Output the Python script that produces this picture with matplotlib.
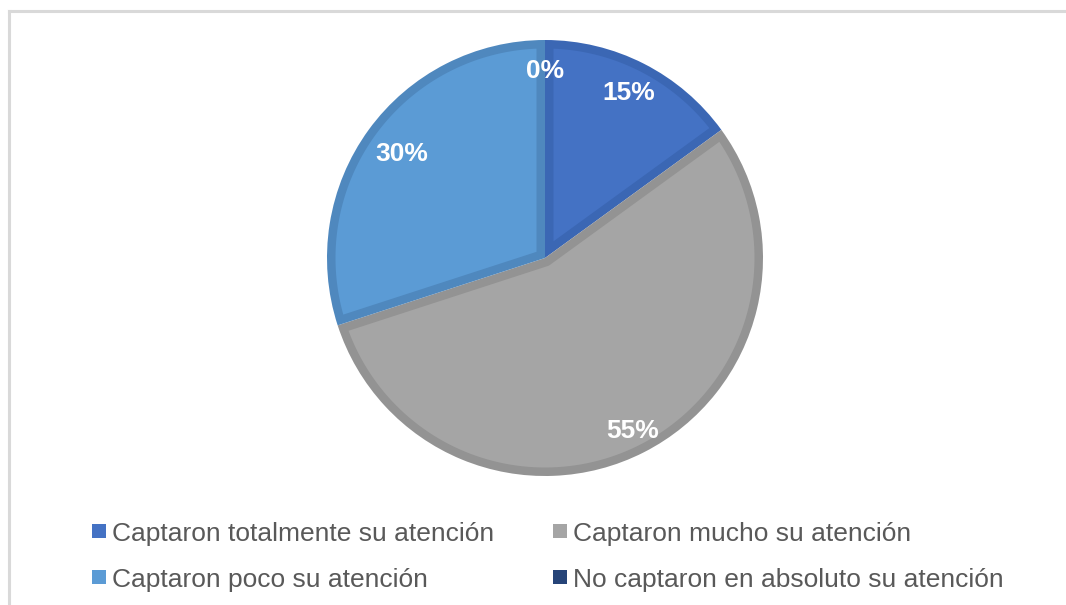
import matplotlib
matplotlib.use("Agg")
import numpy as np
import matplotlib.pyplot as plt
from matplotlib.patches import Rectangle, Polygon
from matplotlib.lines import Line2D

plt.rcParams['font.family'] = ['Liberation Sans', 'DejaVu Sans']

categories = [
    "Captaron totalmente su atención",
    "Captaron mucho su atención",
    "Captaron poco su atención",
    "No captaron en absoluto su atención",
]
percentages = [15, 55, 30, 0]
fill_colors = ["#4472C4", "#A5A5A5", "#5B9BD5", "#264478"]
band_colors = ["#3B67B4", "#939393", "#4F88BE", "#22406E"]

W, H = 1066, 605
fig = plt.figure(figsize=(W / 100, H / 100), dpi=100)
fig.patch.set_facecolor("white")

# light frame around the chart area
frame_kw = dict(color="#D9D9D9", linewidth=2.2, transform=fig.transFigure)
fig.add_artist(Line2D([9 / W, 1.0], [1 - 11 / H, 1 - 11 / H], **frame_kw))
fig.add_artist(Line2D([9 / W, 9 / W], [0.0, 1 - 11 / H], **frame_kw))

# pie axes
cx, cy, r = 545, 258, 218
ax = fig.add_axes([(cx - r) / W, (H - cy - r) / H, 2 * r / W, 2 * r / H])
wedges, _ = ax.pie(
    percentages,
    colors=band_colors,
    startangle=90,
    counterclock=False,
    radius=1.0,
    wedgeprops=dict(linewidth=0),
)


def inset_outline(t1, t2, R, b, n=120):
    """Region of the wedge [t1, t2] lying at least b away from its outline."""
    phi = t2 - t1
    if phi <= 0:
        return None
    Ri = R - b
    d = np.degrees(np.arcsin(b / Ri))
    arc = np.radians(np.linspace(t1 + d, t2 - d, n))
    outer = np.column_stack([Ri * np.cos(arc), Ri * np.sin(arc)])
    if phi < 180:
        h = np.radians(phi / 2)
        bis = np.radians(t1 + phi / 2)
        apex = (b / np.sin(h)) * np.array([np.cos(bis), np.sin(bis)])
        pts = np.vstack([apex, outer])
    else:
        a = np.radians(np.linspace(t2 - 90, t1 + 90, 40))
        inner = np.column_stack([b * np.cos(a), b * np.sin(a)])
        pts = np.vstack([outer, inner])
    return pts


band = 8.5 / r
for w, fc in zip(wedges, fill_colors):
    pts = inset_outline(w.theta1, w.theta2, w.r, band)
    if pts is not None:
        ax.add_patch(Polygon(pts, closed=True, facecolor=fc, edgecolor="none"))

ax.set_xlim(-1, 1)
ax.set_ylim(-1, 1)
ax.set_aspect("equal")
ax.axis("off")

# percentage labels placed along each slice's mid-angle
label_dist = [0.85, 0.89, 0.81, 0.86]
start = 90.0
for p, dist in zip(percentages, label_dist):
    mid = start - p * 3.6 / 2
    start -= p * 3.6
    ang = np.deg2rad(mid)
    ax.text(dist * np.cos(ang), dist * np.sin(ang), f"{p}%", color="white",
            fontsize=19, fontweight="bold", ha="center", va="center")

# legend entries in two columns
col_x = [92, 553]
row_y = [531, 577]
box = 14
for i, (name, col) in enumerate(zip(categories, fill_colors)):
    x0 = col_x[i % 2]
    y0 = row_y[i // 2]
    fig.add_artist(Rectangle((x0 / W, (H - y0 - box / 2) / H), box / W, box / H,
                             transform=fig.transFigure, facecolor=col,
                             edgecolor="none"))
    fig.text((x0 + box + 6) / W, (H - y0) / H, name, fontsize=19,
             color="#595959", ha="left", va="center_baseline")

fig.savefig("out.png", dpi=100)
